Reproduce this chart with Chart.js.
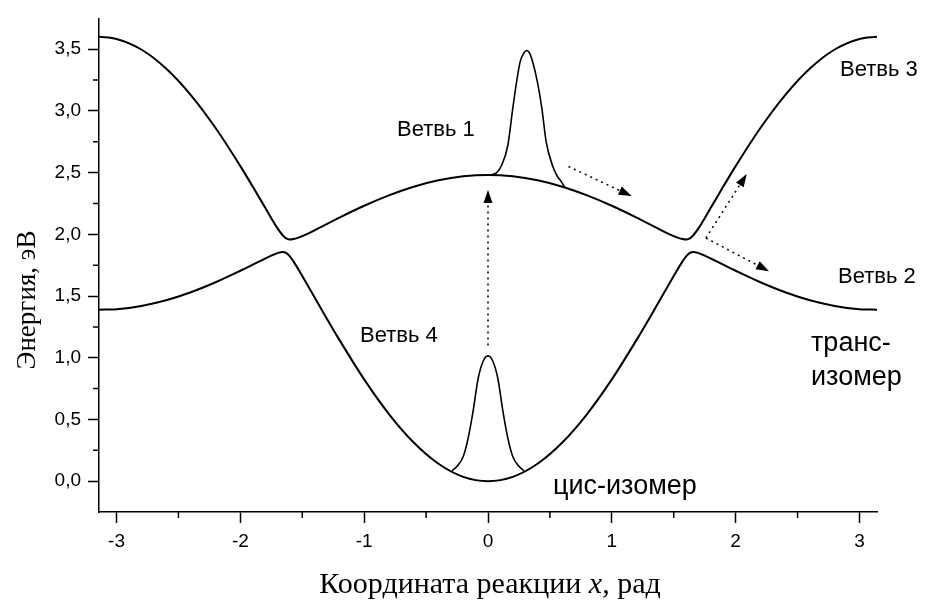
<!DOCTYPE html>
<html>
<head>
<meta charset="utf-8">
<script src="https://cdn.jsdelivr.net/npm/chart.js@4.4.0/dist/chart.umd.min.js"></script>
<style>
  html, body { margin: 0; padding: 0; background: #fff; }
</style>
</head>
<body>
<canvas id="chart" width="925" height="600"></canvas>
<script>
// координата реакции x, рад
const coordX = [-3.1416, -3.0, -2.8, -2.6, -2.4, -2.2, -2.0, -1.9, -1.82, -1.75, -1.7, -1.66, -1.63, -1.6, -1.57, -1.52, -1.45, -1.35, -1.2, -1.0, -0.8, -0.6, -0.4, -0.2,
  0, 0.2, 0.4, 0.6, 0.8, 1.0, 1.2, 1.35, 1.45, 1.52, 1.57, 1.6, 1.63, 1.66, 1.7, 1.75, 1.82, 1.9, 2.0, 2.2, 2.4, 2.6, 2.8, 3.0, 3.1416];

// нижняя поверхность (ветви 2 и 4), эВ
const lowerBranch = [1.389, 1.394, 1.420, 1.466, 1.531, 1.612, 1.705, 1.754, 1.794, 1.828, 1.848, 1.857, 1.850, 1.822, 1.779, 1.697, 1.576, 1.401, 1.145, 0.825, 0.544, 0.313, 0.141, 0.035,
  0.000, 0.035, 0.141, 0.313, 0.544, 0.825, 1.145, 1.401, 1.576, 1.697, 1.779, 1.822, 1.850, 1.857, 1.848, 1.828, 1.794, 1.754, 1.705, 1.612, 1.531, 1.466, 1.420, 1.394, 1.389];

// верхняя поверхность (ветви 1 и 3), эВ
const upperBranch = [3.601, 3.583, 3.498, 3.344, 3.129, 2.862, 2.553, 2.387, 2.251, 2.131, 2.048, 1.995, 1.968, 1.958, 1.962, 1.978, 2.008, 2.059, 2.136, 2.232, 2.316, 2.386, 2.438, 2.470,
  2.481, 2.470, 2.438, 2.386, 2.316, 2.232, 2.136, 2.059, 2.008, 1.978, 1.962, 1.958, 1.968, 1.995, 2.048, 2.131, 2.251, 2.387, 2.553, 2.862, 3.129, 3.344, 3.498, 3.583, 3.601];

// волновой пакет на нижней поверхности (цис-изомер)
const lowPacketX = [-0.29, -0.25, -0.20, -0.16, -0.12, -0.08, -0.04, 0, 0.04, 0.08, 0.12, 0.16, 0.20, 0.25, 0.29];
const lowPacketY = [0.085, 0.12, 0.20, 0.35, 0.57, 0.83, 0.97, 1.015, 0.97, 0.83, 0.57, 0.35, 0.20, 0.12, 0.085];

// волновой пакет на верхней поверхности
const upPacketX = [0.02, 0.07, 0.11, 0.16, 0.20, 0.23, 0.26, 0.29, 0.313, 0.335, 0.36, 0.40, 0.435, 0.47, 0.52, 0.56, 0.59, 0.62];
const upPacketY = [2.48, 2.50, 2.56, 2.72, 3.02, 3.23, 3.40, 3.47, 3.49, 3.47, 3.40, 3.23, 3.02, 2.75, 2.56, 2.47, 2.43, 2.38];

// стрелки переходов: [x0, y0, x1, y1]
const arrows = [
  [0, 1.10, 0, 2.36],
  [0.65, 2.55, 1.16, 2.31],
  [1.76, 1.97, 2.09, 2.49],
  [1.76, 1.97, 2.27, 1.70]
];

const xTicks = [-3, -2, -1, 0, 1, 2, 3];
const xMinor = [-2.5, -1.5, -0.5, 0.5, 1.5, 2.5];
const yTicks = [0, 0.5, 1, 1.5, 2, 2.5, 3, 3.5];
const yMinor = [0.25, 0.75, 1.25, 1.75, 2.25, 2.75, 3.25];

// подписи: левый край и базовая линия в пикселях
const notes = [
  { text: 'Ветвь 1', x: 397, y: 136, size: 22 },
  { text: 'Ветвь 4', x: 360, y: 342, size: 22 },
  { text: 'Ветвь 3', x: 840, y: 76, size: 22 },
  { text: 'Ветвь 2', x: 838, y: 283, size: 22 },
  { text: 'транс-', x: 811, y: 351, size: 27 },
  { text: 'изомер', x: 811, y: 385, size: 27 },
  { text: 'цис-изомер', x: 553, y: 494, size: 27 }
];

const sans = "'Liberation Sans', Arial, sans-serif";
const serif = "'Liberation Serif', 'Times New Roman', serif";

const pts = (xs, ys) => xs.map((x, i) => ({ x: x, y: ys[i] }));

const curve = (data, width) => ({
  data: data,
  borderColor: '#000',
  borderWidth: width,
  pointRadius: 0,
  fill: false,
  cubicInterpolationMode: 'monotone'
});

const datasets = [
  curve(pts(coordX, lowerBranch), 2),
  curve(pts(coordX, upperBranch), 2),
  curve(pts(lowPacketX, lowPacketY), 1.6),
  curve(pts(upPacketX, upPacketY), 1.6)
];
arrows.forEach(a => {
  datasets.push({
    data: [{ x: a[0], y: a[1] }, { x: a[2], y: a[3] }],
    borderColor: '#000',
    borderWidth: 1.5,
    borderDash: [2, 4],
    pointRadius: 0,
    fill: false,
    tension: 0,
    isArrow: true
  });
});

const minorTicks = {
  id: 'minorTicks',
  afterDraw(chart) {
    const { ctx, scales: { x, y } } = chart;
    ctx.save();
    ctx.strokeStyle = '#000';
    ctx.lineWidth = 1.5;
    ctx.beginPath();
    xMinor.forEach(v => {
      const px = x.getPixelForValue(v);
      ctx.moveTo(px, y.bottom);
      ctx.lineTo(px, y.bottom + 6);
    });
    yMinor.forEach(v => {
      const py = y.getPixelForValue(v);
      ctx.moveTo(x.left, py);
      ctx.lineTo(x.left - 6, py);
    });
    ctx.stroke();
    ctx.restore();
  }
};

const arrowHeads = {
  id: 'arrowHeads',
  afterDatasetsDraw(chart) {
    const { ctx, scales: { x, y } } = chart;
    ctx.save();
    ctx.fillStyle = '#000';
    chart.data.datasets.forEach(ds => {
      if (!ds.isArrow) return;
      const p0 = ds.data[0], p1 = ds.data[1];
      const x0 = x.getPixelForValue(p0.x), y0 = y.getPixelForValue(p0.y);
      const x1 = x.getPixelForValue(p1.x), y1 = y.getPixelForValue(p1.y);
      const ang = Math.atan2(y1 - y0, x1 - x0);
      const len = 13, half = 4.5;
      ctx.beginPath();
      ctx.moveTo(x1, y1);
      ctx.lineTo(x1 - len * Math.cos(ang) + half * Math.sin(ang), y1 - len * Math.sin(ang) - half * Math.cos(ang));
      ctx.lineTo(x1 - len * Math.cos(ang) - half * Math.sin(ang), y1 - len * Math.sin(ang) + half * Math.cos(ang));
      ctx.closePath();
      ctx.fill();
    });
    ctx.restore();
  }
};

const labels = {
  id: 'labels',
  afterDraw(chart) {
    const { ctx } = chart;
    ctx.save();
    ctx.fillStyle = '#000';
    ctx.textBaseline = 'alphabetic';
    ctx.textAlign = 'left';
    notes.forEach(n => {
      ctx.font = n.size + 'px ' + sans;
      ctx.fillText(n.text, n.x, n.y);
    });

    // подпись оси Y
    ctx.save();
    ctx.translate(35, 300);
    ctx.rotate(-Math.PI / 2);
    ctx.textAlign = 'center';
    ctx.font = '27px ' + serif;
    ctx.fillText('Энергия, эВ', 0, 0);
    ctx.restore();

    // подпись оси X (x курсивом)
    const parts = [
      { t: 'Координата реакции ', f: '30px ' + serif },
      { t: 'x', f: 'italic 30px ' + serif },
      { t: ', рад', f: '30px ' + serif }
    ];
    let total = 0;
    parts.forEach(p => { ctx.font = p.f; p.w = ctx.measureText(p.t).width; total += p.w; });
    let cx = 490 - total / 2;
    parts.forEach(p => { ctx.font = p.f; ctx.fillText(p.t, cx, 593); cx += p.w; });
    ctx.restore();
  }
};

new Chart(document.getElementById('chart').getContext('2d'), {
  type: 'line',
  data: { datasets: datasets },
  options: {
    responsive: false,
    animation: false,
    devicePixelRatio: 1,
    layout: { padding: { top: 16, right: 48, left: 0, bottom: 0 } },
    plugins: { legend: { display: false }, tooltip: { enabled: false } },
    scales: {
      x: {
        type: 'linear',
        min: -Math.PI,
        max: Math.PI,
        afterBuildTicks: s => { s.ticks = xTicks.map(v => ({ value: v })); },
        afterFit: s => { s.height = 88; },
        grid: { drawOnChartArea: false, tickLength: 11, tickColor: '#000', tickWidth: 1.5 },
        border: { color: '#000', width: 1.5 },
        ticks: {
          color: '#000',
          padding: 7,
          maxRotation: 0,
          font: { family: sans, size: 19 },
          callback: v => String(v)
        }
      },
      y: {
        type: 'linear',
        min: -0.25,
        max: 3.75,
        afterBuildTicks: s => { s.ticks = yTicks.map(v => ({ value: v })); },
        afterFit: s => { s.width = 99; },
        grid: { drawOnChartArea: false, tickLength: 11, tickColor: '#000', tickWidth: 1.5 },
        border: { color: '#000', width: 1.5 },
        ticks: {
          color: '#000',
          padding: 7,
          font: { family: sans, size: 19 },
          callback: v => v.toFixed(1).replace('.', ',')
        }
      }
    }
  },
  plugins: [minorTicks, arrowHeads, labels]
});
</script>
</body>
</html>
